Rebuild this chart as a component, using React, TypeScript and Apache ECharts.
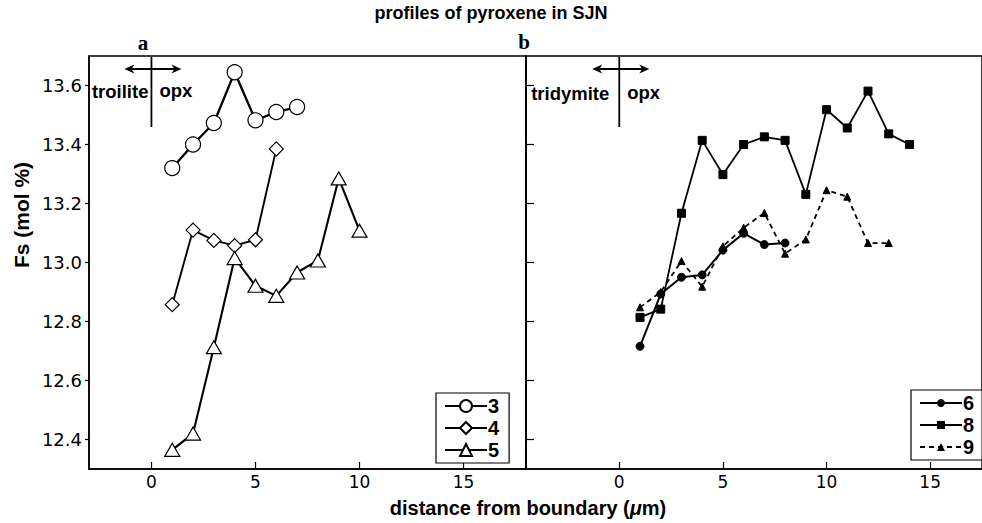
import React, { useEffect, useRef } from "react";
import * as echarts from "echarts";

// ---- data ----
const xTicks = [0, 5, 10, 15];
const yTicks = [12.4, 12.6, 12.8, 13.0, 13.2, 13.4, 13.6];

const x3 = [1, 2, 3, 4, 5, 6, 7];
const s3 = [13.32, 13.40, 13.473, 13.645, 13.482, 13.51, 13.527];

const x4 = [1, 2, 3, 4, 5, 6];
const s4 = [12.857, 13.11, 13.075, 13.057, 13.077, 13.385];

const x5 = [1, 2, 3, 4, 5, 6, 7, 8, 9, 10];
const s5 = [12.365, 12.42, 12.713, 13.015, 12.921, 12.887, 12.966, 13.007, 13.285, 13.108];

const x6 = [1, 2, 3, 4, 5, 6, 7, 8];
const s6 = [12.716, 12.893, 12.95, 12.958, 13.042, 13.099, 13.061, 13.066];

const x8 = [1, 2, 3, 4, 5, 6, 7, 8, 9, 10, 11, 12, 13, 14];
const s8 = [12.814, 12.842, 13.167, 13.414, 13.298, 13.4, 13.426, 13.414, 13.231, 13.518, 13.456, 13.581, 13.436, 13.4];

const x9 = [1, 2, 3, 4, 5, 6, 7, 8, 9, 10, 11, 12, 13];
const s9 = [12.848, 12.9, 13.005, 12.918, 13.055, 13.118, 13.168, 13.03, 13.078, 13.245, 13.223, 13.066, 13.066];

const leftNames = ["3", "4", "5"];
const rightNames = ["6", "8", "9"];

const zip = (xs: number[], ys: number[]) => xs.map((x, i) => [x, ys[i]]);

const FONT = "'Liberation Sans', Arial, Helvetica, sans-serif";
const TICKFONT = "'DejaVu Sans', Verdana, sans-serif";

export default function App() {
  const ref = useRef<HTMLDivElement>(null);

  useEffect(() => {
    if (!ref.current) return;
    const chart = echarts.init(ref.current, null, { renderer: "svg" });

    const axisLine = { show: true, onZero: false, lineStyle: { color: "#000", width: 1.5 } };

    const xAxisBase = (gi: number, min: number, max: number) => ({
      type: "value",
      gridIndex: gi,
      min,
      max,
      axisLine,
      axisTick: {
        show: true,
        inside: true,
        length: 7,
        customValues: xTicks,
        lineStyle: { color: "#000", width: 1.2 },
      },
      axisLabel: {
        customValues: xTicks,
        color: "#000",
        fontSize: 17,
        fontFamily: TICKFONT,
        margin: 4,
      },
      splitLine: { show: false },
    });

    const openStyle = { color: "#fff", borderColor: "#000", borderWidth: 1.2 };
    const filled = { color: "#000", borderColor: "#000" };

    const legendText = {
      color: "#000",
      fontSize: 20,
      fontWeight: "bold",
      fontFamily: FONT,
      lineHeight: 17,
      padding: [0, 0, 0, -4],
    };

    const option: any = {
      animation: false,
      backgroundColor: "#fff",
      grid: [
        { left: 89, top: 56, width: 437, height: 413, show: true, borderColor: "#000", borderWidth: 1.5 },
        { left: 526, top: 56, width: 458, height: 413, show: true, borderColor: "#000", borderWidth: 1.5 },
      ],
      xAxis: [xAxisBase(0, -3, 18), xAxisBase(1, -4.5, 17.5)],
      yAxis: [
        {
          type: "value",
          gridIndex: 0,
          min: 12.3,
          max: 13.7,
          axisLine,
          axisTick: {
            show: true,
            inside: false,
            length: 4,
            customValues: yTicks,
            lineStyle: { color: "#000", width: 1.2 },
          },
          axisLabel: {
            customValues: yTicks,
            color: "#000",
            fontSize: 18,
            fontFamily: TICKFONT,
            margin: 7,
            formatter: (v: number) => v.toFixed(1),
          },
          splitLine: { show: false },
        },
        {
          type: "value",
          gridIndex: 1,
          min: 12.3,
          max: 13.7,
          axisLine,
          axisTick: {
            show: true,
            inside: true,
            length: 8,
            customValues: yTicks,
            lineStyle: { color: "#000", width: 1.2 },
          },
          axisLabel: { show: false },
          splitLine: { show: false },
        },
      ],
      legend: [
        {
          data: leftNames,
          orient: "vertical",
          left: 436,
          top: 393,
          padding: [3, 10, 3, 8],
          itemGap: 2,
          itemWidth: 42,
          itemHeight: 15,
          borderColor: "#000",
          borderWidth: 1.2,
          backgroundColor: "#fff",
          textStyle: legendText,
          selectedMode: false,
        },
        {
          data: rightNames,
          orient: "vertical",
          left: 911,
          top: 390,
          padding: [3, 8, 3, 8],
          itemGap: 2,
          itemWidth: 42,
          itemHeight: 10,
          borderColor: "#000",
          borderWidth: 1.2,
          backgroundColor: "#fff",
          textStyle: legendText,
          selectedMode: false,
        },
      ],
      series: [
        {
          name: "3",
          type: "line",
          xAxisIndex: 0,
          yAxisIndex: 0,
          data: zip(x3, s3),
          symbol: "circle",
          symbolSize: 15,
          itemStyle: openStyle,
          lineStyle: { color: "#000", width: 2.3 },
          z: 5,
        },
        {
          name: "4",
          type: "line",
          xAxisIndex: 0,
          yAxisIndex: 0,
          data: zip(x4, s4),
          symbol: "diamond",
          symbolSize: 14,
          itemStyle: openStyle,
          lineStyle: { color: "#000", width: 1.9 },
          z: 4,
        },
        {
          name: "5",
          type: "line",
          xAxisIndex: 0,
          yAxisIndex: 0,
          data: zip(x5, s5),
          symbol: "triangle",
          symbolSize: [15, 13],
          itemStyle: openStyle,
          lineStyle: { color: "#000", width: 2.1 },
          z: 6,
        },
        {
          name: "6",
          type: "line",
          xAxisIndex: 1,
          yAxisIndex: 1,
          data: zip(x6, s6),
          symbol: "circle",
          symbolSize: 8,
          itemStyle: filled,
          lineStyle: { color: "#000", width: 2 },
          z: 5,
        },
        {
          name: "8",
          type: "line",
          xAxisIndex: 1,
          yAxisIndex: 1,
          data: zip(x8, s8),
          symbol: "rect",
          symbolSize: 8,
          itemStyle: filled,
          lineStyle: { color: "#000", width: 1.8 },
          z: 5,
        },
        {
          name: "9",
          type: "line",
          xAxisIndex: 1,
          yAxisIndex: 1,
          data: zip(x9, s9),
          symbol: "triangle",
          symbolSize: 7,
          itemStyle: filled,
          lineStyle: { color: "#000", width: 1.8, type: [5, 4] },
          z: 4,
        },
      ],
    };

    chart.setOption(option);

    const zeroL = chart.convertToPixel({ xAxisIndex: 0 }, 0) as number;
    const zeroR = chart.convertToPixel({ xAxisIndex: 1 }, 0) as number;

    const arrow = (cx: number, y: number, half: number) => [
      { type: "line", shape: { x1: cx - half + 3, y1: y, x2: cx + half - 3, y2: y }, style: { stroke: "#000", lineWidth: 1.8 } },
      { type: "polygon", shape: { points: [[cx - half, y], [cx - half + 10, y - 4.5], [cx - half + 7, y], [cx - half + 10, y + 4.5]] }, style: { fill: "#000" } },
      { type: "polygon", shape: { points: [[cx + half, y], [cx + half - 10, y - 4.5], [cx + half - 7, y], [cx + half - 10, y + 4.5]] }, style: { fill: "#000" } },
    ];

    const annot = (x0: number, left: string, gap: number, ty: number) => [
      { type: "line", shape: { x1: x0, y1: 57, x2: x0, y2: 127 }, style: { stroke: "#000", lineWidth: 1.8 } },
      ...arrow(x0 + 1.5, 69, 28.5),
      {
        type: "text",
        x: x0 - gap,
        y: ty,
        style: { text: left, font: `bold 18.5px ${FONT}`, fill: "#000", align: "right", verticalAlign: "middle" },
      },
      {
        type: "text",
        x: x0 + 8,
        y: ty - 1,
        style: { text: "opx", font: `bold 18.5px ${FONT}`, fill: "#000", align: "left", verticalAlign: "middle" },
      },
    ];

    chart.setOption({
      graphic: [
        ...annot(zeroL, "troilite", 3, 91),
        ...annot(zeroR, "tridymite", 10, 93),
        {
          type: "text",
          x: 491,
          y: 13,
          style: { text: "profiles of pyroxene in SJN", font: `bold 18px ${FONT}`, fill: "#000", align: "center", verticalAlign: "middle" },
        },
        {
          type: "text",
          x: 143,
          y: 43,
          style: { text: "a", font: "bold 21px 'Liberation Serif', 'DejaVu Serif', serif", fill: "#000", align: "center", verticalAlign: "middle" },
        },
        {
          type: "text",
          x: 524,
          y: 42,
          style: { text: "b", font: "bold 21px 'Liberation Serif', 'DejaVu Serif', serif", fill: "#000", align: "center", verticalAlign: "middle" },
        },
        {
          type: "text",
          x: 21,
          y: 215,
          rotation: Math.PI / 2,
          style: { text: "Fs (mol %)", font: `bold 21px ${FONT}`, fill: "#000", align: "center", verticalAlign: "middle" },
        },
        {
          type: "text",
          x: 528,
          y: 508,
          style: {
            text: "distance from boundary ({i|μ}m)",
            font: `bold 20px ${FONT}`,
            fill: "#000",
            align: "center",
            verticalAlign: "middle",
            rich: {
              i: { fontStyle: "italic", fontWeight: "bold", fontSize: 20, fontFamily: FONT, fill: "#000" },
            },
          },
        },
      ],
    });

    return () => chart.dispose();
  }, []);

  return (
    <div
      ref={ref}
      style={{ position: "absolute", left: 0, top: 0, width: 982, height: 523, background: "#fff" }}
    />
  );
}
